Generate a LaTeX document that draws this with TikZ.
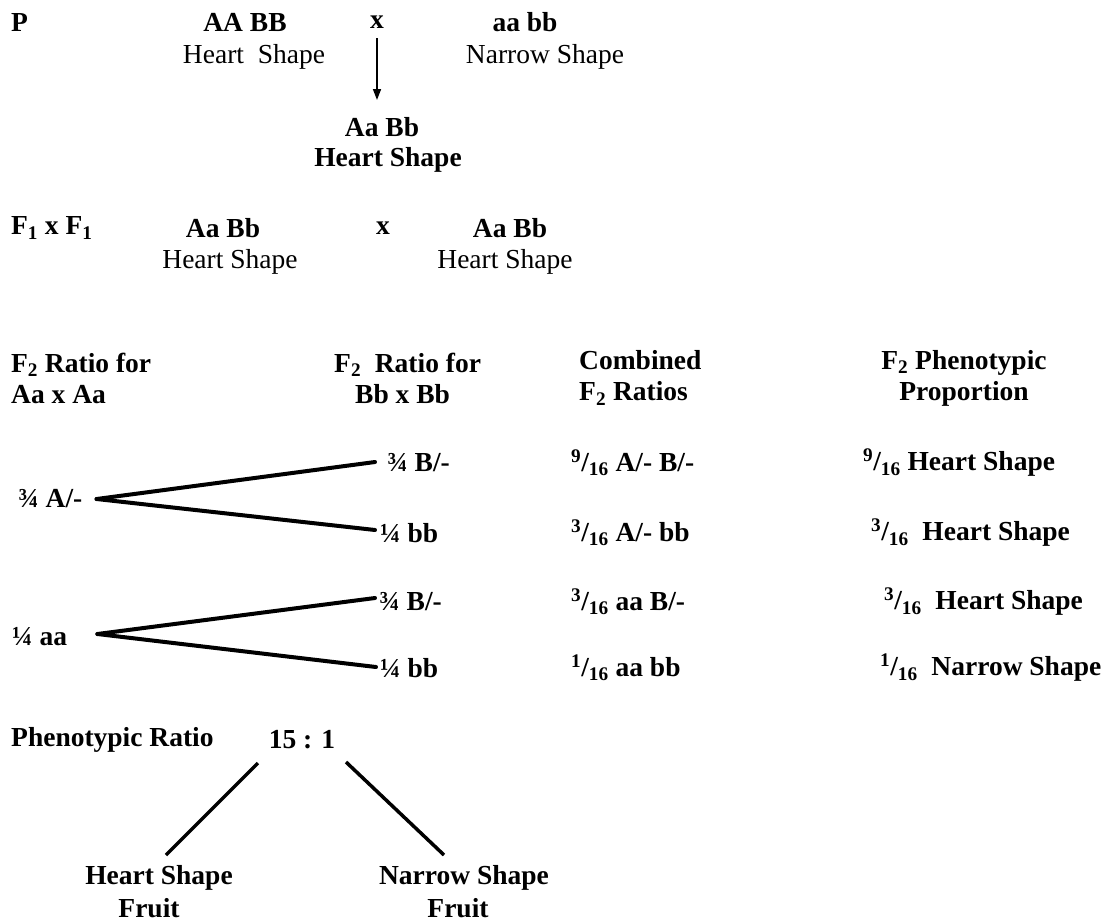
\documentclass[tikz,border=0pt]{standalone}
\usepackage{fontspec}
\setmainfont{Liberation Serif}
\usetikzlibrary{arrows.meta,calc}
\begin{document}
\begin{tikzpicture}[x=1pt,y=-1pt,
  reg/.style={font=\fontsize{27.5}{32}\selectfont, inner sep=0pt},
  bld/.style={font=\fontsize{27.5}{31}\selectfont\bfseries, inner sep=0pt},
  tree/.style={line width=4pt, line cap=round},
  leg/.style={line width=3.5pt},
  arr/.style={line width=1.6pt, -{Triangle[length=11pt,width=8pt]}}]
\useasboundingbox (0,0) rectangle (1114,922);
\fill[white] (0,0) rectangle (1114,922);
% P generation
\node[bld, anchor=west] (P) at (11,22) {P};
\node[bld] (p1) at (245,22) {AA BB};
\node[bld] (px) at (377,22) {x};
\node[bld] (p2) at (525,22) {aa bb};
\node[reg] (p1t) at (254,57) {Heart\ \ Shape};
\node[reg] (p2t) at (545,57) {Narrow Shape};
\node[bld] (f1) at (382,127) {Aa Bb};
\node[bld] (f1t) at (388,160) {Heart Shape};
\draw[arr] ($(px.center)+(0,16)$) -- ($(f1.center)+(-5,-27)$);
% F1 x F1
\node[bld, anchor=west] (F1) at (11,228) {F\textsubscript{1} x F\textsubscript{1}};
\node[bld] (c1) at (223,228) {Aa Bb};
\node[bld] (cx) at (383,228) {x};
\node[bld] (c2) at (510,228) {Aa Bb};
\node[reg] (c1t) at (230,262) {Heart Shape};
\node[reg] (c2t) at (505,262) {Heart Shape};
% headers
\node[bld, anchor=west, align=left] (h1) at (11,378) {F\textsubscript{2} Ratio for\\Aa x Aa};
\node[bld, anchor=west, align=left] (h2) at (334,378) {F\textsubscript{2}\ \ Ratio for\\\hspace*{21pt}Bb x Bb};
\node[bld, anchor=west, align=left] (h3) at (579,378) {Combined\\F\textsubscript{2} Ratios};
\node[bld, align=center] (h4) at (964,378) {F\textsubscript{2} Phenotypic\\Proportion};
% tree
\node[bld, anchor=west] (A1) at (18,499) {¾ A/-};
\node[bld, anchor=west] (A2) at (12,637) {¼ aa};
\node[bld, anchor=west] (B1) at (387,463) {¾ B/-};
\node[bld, anchor=west] (B2) at (380,533) {¼ bb};
\node[bld, anchor=west] (B3) at (379,602) {¾ B/-};
\node[bld, anchor=west] (B4) at (380,668) {¼ bb};
\draw[tree] ($(A1.east)+(14,0)$) -- ($(B1.west)+(-12,-1)$);
\draw[tree] ($(A1.east)+(14,0)$) -- ($(B2.west)+(-5,-3)$);
\draw[tree] ($(A2.east)+(30,-3)$) -- ($(B3.west)+(-4,-4)$);
\draw[tree] ($(A2.east)+(30,-3)$) -- ($(B4.west)+(-4,-1)$);
% combined
\node[bld, anchor=west] (C1) at (571,463) {\textsuperscript{9}/\textsubscript{16} A/- B/-};
\node[bld, anchor=west] (C2) at (571,533) {\textsuperscript{3}/\textsubscript{16} A/- bb};
\node[bld, anchor=west] (C3) at (571,602) {\textsuperscript{3}/\textsubscript{16} aa B/-};
\node[bld, anchor=west] (C4) at (571,668) {\textsuperscript{1}/\textsubscript{16} aa bb};
\node[bld, anchor=west] (D1) at (863,463) {\textsuperscript{9}/\textsubscript{16} Heart Shape};
\node[bld, anchor=west] (D2) at (871,533) {\textsuperscript{3}/\textsubscript{16}\ \ Heart Shape};
\node[bld, anchor=west] (D3) at (884,602) {\textsuperscript{3}/\textsubscript{16}\ \ Heart Shape};
\node[bld, anchor=west] (D4) at (880,668) {\textsuperscript{1}/\textsubscript{16}\ \ Narrow Shape};
% phenotypic ratio
\node[bld, anchor=west] (PR) at (11,740) {Phenotypic Ratio};
\node[bld] (R) at (302,740) {15 : 1};
\node[bld] (H) at (159,878) {Heart Shape};
\node[bld] (Hf) at (149,908) {Fruit};
\node[bld] (N) at (464,878) {Narrow Shape};
\node[bld] (Nf) at (458,908) {Fruit};
\draw[leg] ($(R.center)+(-44,23)$) -- ($(H.center)+(7,-23)$);
\draw[leg] ($(R.center)+(44,22)$) -- ($(N.center)+(-20,-23)$);
\end{tikzpicture}
\end{document}
